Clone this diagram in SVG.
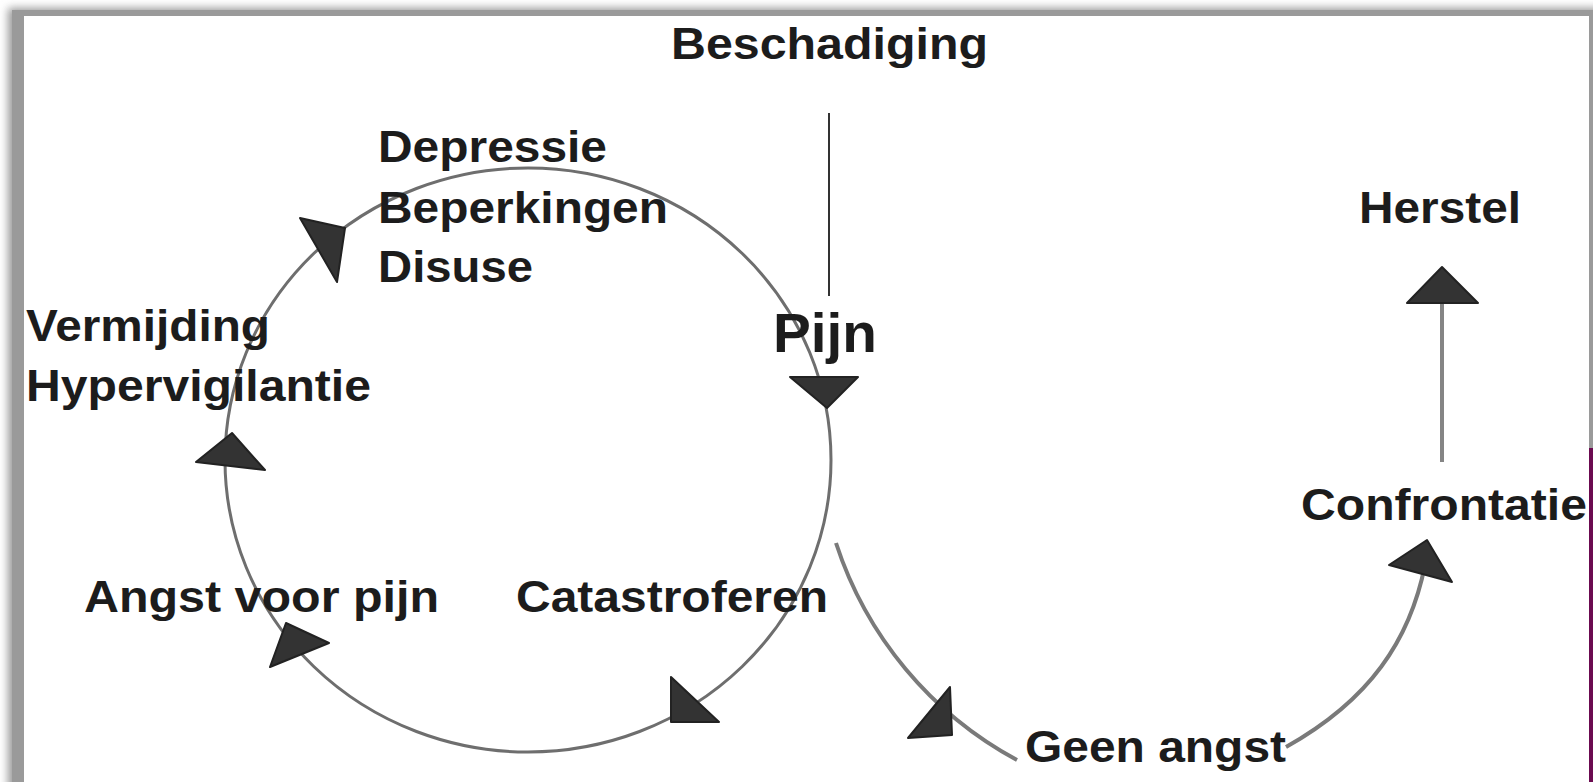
<svg xmlns="http://www.w3.org/2000/svg" width="1593" height="782" viewBox="0 0 1593 782">
<defs>
<filter id="blur" x="-5%" y="-5%" width="110%" height="110%"><feGaussianBlur stdDeviation="4"/></filter>
<style>
.t{font-family:"Liberation Sans",Arial,sans-serif;font-weight:bold;font-size:45px;fill:#1c1c1c}
.arc{fill:none;stroke:#6e6e6e;stroke-width:3}
.arc2{fill:none;stroke:#7a7a7a;stroke-width:4}
.tri{fill:#333;stroke:#222;stroke-width:2;stroke-linejoin:round}
</style>
</defs>
<rect width="1593" height="782" fill="#fff"/>
<g id="frame">
<rect x="8" y="8" width="1600" height="800" fill="#9a9a9a" filter="url(#blur)"/>
<rect x="12" y="10" width="1581" height="772" fill="#9a9a9a"/>
<rect x="24" y="16" width="1565" height="766" fill="#fff"/>
<rect x="1589" y="448" width="4" height="334" fill="#6b0a50"/>
</g>
<g id="connectors">
<ellipse class="arc" cx="528" cy="460" rx="303" ry="292"/>
<line x1="829" y1="113" x2="829" y2="296" stroke="#333" stroke-width="2"/>
<path class="arc2" d="M836,543 A380,380 0 0 0 1017,760"/>
<path class="arc2" d="M1286,747 C1370,700 1410,640 1425,565"/>
<line x1="1442" y1="300" x2="1442" y2="462" stroke="#858585" stroke-width="4"/>
<polygon class="tri" points="790,377 858,377 827,408"/>
<polygon class="tri" points="671,677 671,722 719,722"/>
<polygon class="tri" points="270,667 286,623 329,643"/>
<polygon class="tri" points="196,462 232,433 265,470"/>
<polygon class="tri" points="300,218 345,228 337,282"/>
<polygon class="tri" points="950,687 908,738 952,735"/>
<polygon class="tri" points="1389,565 1427,540 1452,582"/>
<polygon class="tri" points="1442,267 1407,303 1478,303"/>
</g>
<g id="n-beschadiging"><text class="t" x="671" y="59" textLength="317" lengthAdjust="spacingAndGlyphs">Beschadiging</text></g>
<g id="n-depressie">
<text class="t" x="378" y="162" textLength="229" lengthAdjust="spacingAndGlyphs">Depressie</text>
<text class="t" x="378" y="223" textLength="290" lengthAdjust="spacingAndGlyphs">Beperkingen</text>
<text class="t" x="378" y="282" textLength="155" lengthAdjust="spacingAndGlyphs">Disuse</text>
</g>
<g id="n-vermijding">
<text class="t" x="26" y="341" textLength="244" lengthAdjust="spacingAndGlyphs">Vermijding</text>
<text class="t" x="26" y="401" textLength="345" lengthAdjust="spacingAndGlyphs">Hypervigilantie</text>
</g>
<g id="n-angst"><text class="t" x="84" y="612" textLength="355" lengthAdjust="spacingAndGlyphs">Angst voor pijn</text></g>
<g id="n-catastroferen"><text class="t" x="516" y="612" textLength="312" lengthAdjust="spacingAndGlyphs">Catastroferen</text></g>
<g id="n-pijn"><text class="t" x="773" y="352" style="font-size:56px" textLength="104" lengthAdjust="spacingAndGlyphs">Pijn</text></g>
<g id="n-herstel"><text class="t" x="1359" y="223" textLength="162" lengthAdjust="spacingAndGlyphs">Herstel</text></g>
<g id="n-confrontatie"><text class="t" x="1301" y="520" textLength="286" lengthAdjust="spacingAndGlyphs">Confrontatie</text></g>
<g id="n-geenangst"><text class="t" x="1025" y="762" textLength="261" lengthAdjust="spacingAndGlyphs">Geen angst</text></g>
</svg>
